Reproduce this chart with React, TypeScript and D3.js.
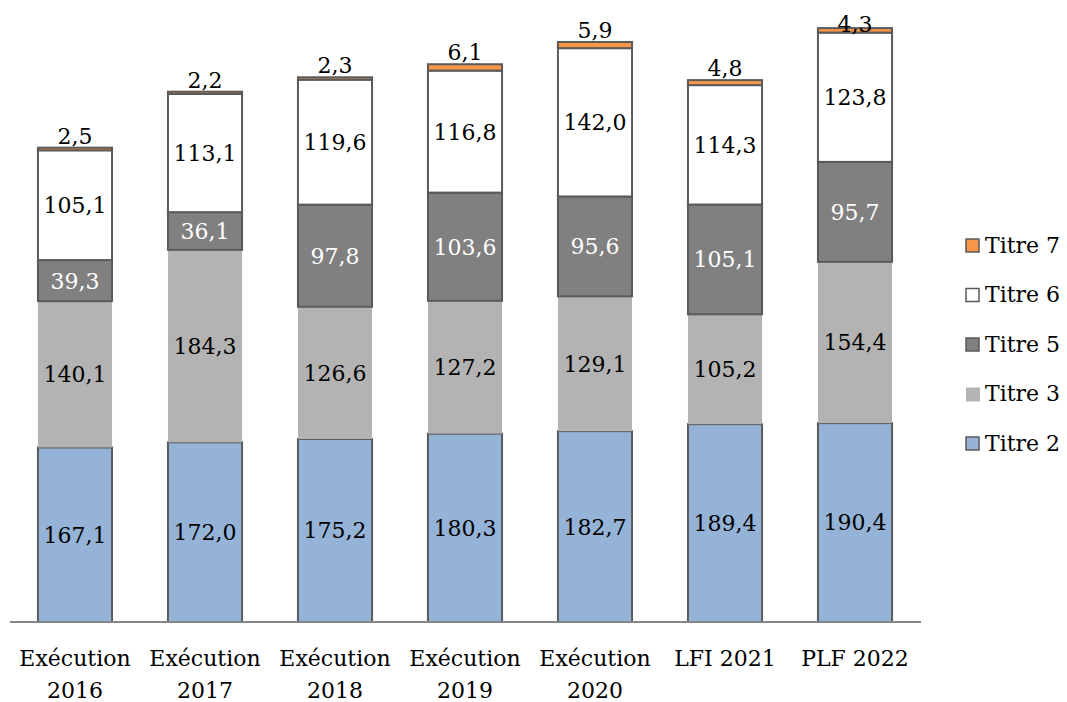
import React from "react";
import * as d3 from "d3";

const categories = [
  ["Exécution", "2016"],
  ["Exécution", "2017"],
  ["Exécution", "2018"],
  ["Exécution", "2019"],
  ["Exécution", "2020"],
  ["LFI 2021"],
  ["PLF 2022"],
];
const titre2 = [167.1, 172.0, 175.2, 180.3, 182.7, 189.4, 190.4];
const titre3 = [140.1, 184.3, 126.6, 127.2, 129.1, 105.2, 154.4];
const titre5 = [39.3, 36.1, 97.8, 103.6, 95.6, 105.1, 95.7];
const titre6 = [105.1, 113.1, 119.6, 116.8, 142.0, 114.3, 123.8];
const titre7 = [2.5, 2.2, 2.3, 6.1, 5.9, 4.8, 4.3];

const seriesKeys = ["Titre 2", "Titre 3", "Titre 5", "Titre 6", "Titre 7"];
const seriesValues = [titre2, titre3, titre5, titre6, titre7];
const legendOrder = ["Titre 7", "Titre 6", "Titre 5", "Titre 3", "Titre 2"];

const styles: Record<string, { fill: string; stroke: string | null; label: string }> = {
  "Titre 2": { fill: "#95b3d7", stroke: "#5a5a5a", label: "#000" },
  "Titre 3": { fill: "#b3b3b3", stroke: null, label: "#000" },
  "Titre 5": { fill: "#808080", stroke: "#5a5a5a", label: "#fff" },
  "Titre 6": { fill: "#ffffff", stroke: "#5a5a5a", label: "#000" },
  "Titre 7": { fill: "#f79646", stroke: "#5a5a5a", label: "#000" },
};

const W = 1067;
const H = 702;
const FONT = "'DejaVu Serif', serif";
const FS = 22;

export default function App() {
  const rows = categories.map((c, i) => {
    const r: any = { i };
    seriesKeys.forEach((k, j) => (r[k] = seriesValues[j][i]));
    return r;
  });
  const stacked = d3.stack<any>().keys(seriesKeys)(rows);

  const x = d3
    .scaleBand<number>()
    .domain(categories.map((_, i) => i))
    .range([10, 920])
    .paddingInner(0.43)
    .paddingOuter(0.215);
  const baseY = 622;
  const y = d3.scaleLinear().domain([0, 100]).range([baseY, baseY - 104.45]);

  return (
    <svg
      width={W}
      height={H}
      style={{ position: "absolute", left: 0, top: 0, background: "#fff" }}
      fontFamily={FONT}
      fontSize={FS}
    >
      {stacked.map((layer) => {
        const st = styles[layer.key];
        return (
          <g key={layer.key}>
            {layer.map((d, i) => {
              const x0 = x(i)!;
              const y0 = y(d[1]);
              const h = y(d[0]) - y(d[1]);
              return (
                <rect
                  key={i}
                  x={x0}
                  y={y0}
                  width={x.bandwidth()}
                  height={h}
                  fill={st.fill}
                  stroke={st.stroke ?? "none"}
                  strokeWidth={st.stroke ? 2 : 0}
                />
              );
            })}
          </g>
        );
      })}
      {stacked.map((layer) => {
        const st = styles[layer.key];
        return (
          <g key={"l" + layer.key}>
            {layer.map((d, i) => {
              const cx = x(i)! + x.bandwidth() / 2;
              const v = d[1] - d[0];
              const txt = v.toFixed(1).replace(".", ",");
              if (layer.key === "Titre 7") {
                const top = y(d[1]);
                const by = Math.max(top - 4, 32);
                return (
                  <text key={i} x={cx} y={by} textAnchor="middle" fill={st.label}>
                    {txt}
                  </text>
                );
              }
              const cy = (y(d[0]) + y(d[1])) / 2;
              return (
                <text key={i} x={cx} y={cy} dy="0.36em" textAnchor="middle" fill={st.label}>
                  {txt}
                </text>
              );
            })}
          </g>
        );
      })}
      <line x1={10} x2={921} y1={baseY} y2={baseY} stroke="#868686" strokeWidth={2} />
      {categories.map((c, i) => (
        <text key={i} x={x(i)! + x.bandwidth() / 2} y={666} textAnchor="middle" fill="#000">
          {c.map((line, k) => (
            <tspan key={k} x={x(i)! + x.bandwidth() / 2} y={666 + k * 32}>
              {line}
            </tspan>
          ))}
        </text>
      ))}
      {legendOrder.map((k, i) => {
        const st = styles[k];
        const cy = 245 + i * 49.5;
        return (
          <g key={k}>
            {st.stroke ? (
              <rect x={966} y={cy - 6} width={13} height={13} fill={st.fill} stroke={st.stroke} strokeWidth={1.5} />
            ) : (
              <rect x={966} y={cy - 6} width={14} height={14} fill={st.fill} />
            )}
            <text x={985} y={cy} dy="0.36em" fill="#000">
              {k}
            </text>
          </g>
        );
      })}
    </svg>
  );
}
